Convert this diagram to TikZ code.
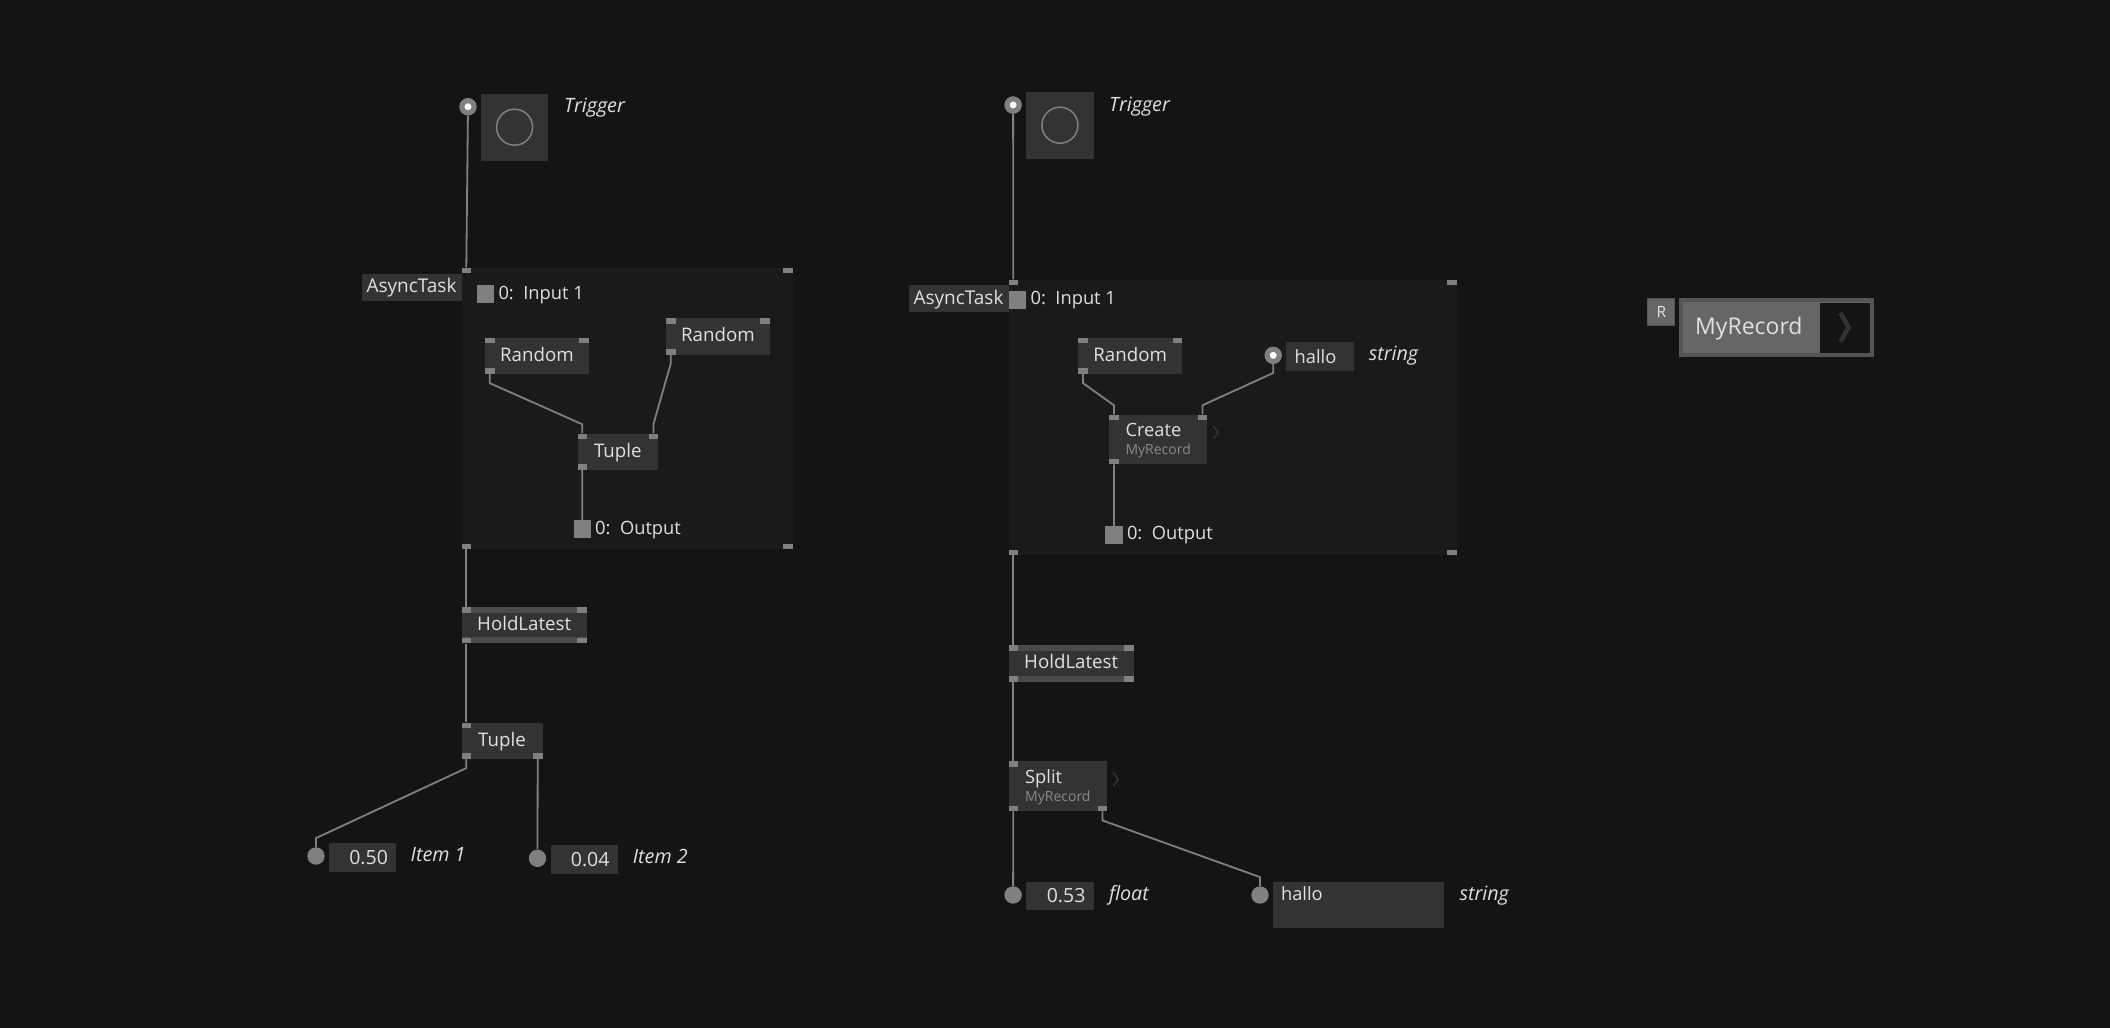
\documentclass[tikz,border=0pt]{standalone}
\usepackage{fontspec}
\setmainfont{Open Sans}
\usetikzlibrary{calc}
\definecolor{bgcol}{HTML}{141414}
\definecolor{regcol}{HTML}{1A1A1A}
\definecolor{boxcol}{HTML}{333333}
\definecolor{stripcol}{HTML}{4A4A4A}
\definecolor{pincol}{HTML}{808080}
\definecolor{txtcol}{HTML}{E0E0E0}
\definecolor{subcol}{HTML}{8A8A8A}
\definecolor{chevcol}{HTML}{333333}
\definecolor{typecol}{HTML}{666666}
\definecolor{typeedge}{HTML}{555555}
\begin{document}
\begin{tikzpicture}[
    x=1pt, y=-1pt,
    plaintxt/.style={
        inner sep=0pt,
        anchor=base west,
        text=txtcol,
        font=\fontsize{18.3}{22}\selectfont
    },
    typetxt/.style={
        plaintxt,
        font=\fontsize{19.7}{22}\selectfont\itshape
    },
    nodebox/.style={
        rectangle,
        fill=boxcol,
        inner sep=0pt,
        anchor=north west,
        text=txtcol,
        font=\fontsize{18.7}{22}\selectfont,
        minimum height=36.4pt,
        text height=23.5pt,
        text depth=12.9pt
    },
    holdbox/.style={
        nodebox,
        minimum width=125.4pt,
        path picture={
            \fill[stripcol] (path picture bounding box.north west) rectangle ([yshift=-6pt]path picture bounding box.north east);
            \fill[stripcol] (path picture bounding box.south west) rectangle ([yshift=6pt]path picture bounding box.south east);
        }
    },
    recbox/.style={
        rectangle,
        fill=boxcol,
        inner sep=0pt,
        anchor=north west,
        align=left,
        text=txtcol,
        font=\fontsize{18.3}{18}\selectfont,
        text height=40.4pt,
        text depth=9.3pt
    },
    taskbox/.style={
        nodebox,
        minimum width=100pt,
        minimum height=27pt,
        font=\fontsize{19}{22}\selectfont,
        text height=19pt,
        text depth=8pt
    },
    regionbox/.style={
        rectangle,
        fill=regcol,
        inner sep=0pt,
        anchor=north west
    },
    valbox/.style={
        rectangle,
        fill=boxcol,
        anchor=north west,
        inner xsep=8.4pt,
        inner ysep=0pt,
        text=txtcol,
        font=\fontsize{19.5}{22}\selectfont,
        text width=50.6pt,
        text height=21pt,
        text depth=7.7pt
    },
    strbox/.style={
        valbox,
        align=left,
        font=\fontsize{18.3}{22}\selectfont
    },
    pinbox/.style={
        rectangle,
        fill=pincol,
        inner sep=0pt,
        minimum width=9.6pt,
        minimum height=5.6pt
    },
    portbox/.style={
        rectangle,
        fill=pincol,
        inner sep=0pt,
        anchor=north west,
        minimum size=17.4pt
    },
    iopin/.style={
        circle,
        draw=pincol,
        fill=white,
        line width=5.2pt,
        minimum size=12.2pt,
        inner sep=0pt
    },
    iodot/.style={
        circle,
        fill=pincol,
        minimum size=17.4pt,
        inner sep=0pt
    },
    bangbox/.style={
        rectangle,
        fill=boxcol,
        inner sep=0pt,
        anchor=north west,
        minimum size=67.4pt
    },
    bangring/.style={
        circle,
        draw=pincol,
        line width=1.5pt,
        inner sep=0pt,
        minimum size=36pt
    },
    wire/.style={
        draw=pincol,
        line width=1.8pt
    },
    chevron/.style={
        draw=chevcol,
        line width=1.6pt
    }
]

\fill[bgcol] (0,0) rectangle (2110,1028);
\useasboundingbox (0,0) rectangle (2110,1028);

\node[regionbox, minimum width=331.4pt, minimum height=281.7pt] (regA) at (461.3,267.3) {};
\node[regionbox, minimum width=448.4pt, minimum height=275.7pt] (regB) at (1008.3,279.3) {};

\node[bangbox] (bangA) at (480.7,93.3) {};
\node[bangring] (ringA) at (bangA) {};
\node[iopin] (trigA) at (468,106.7) {};
\node[typetxt] (trigAtxt) at (564,112.7) {Trigger};

\node[bangbox] (bangB) at (1026,91.3) {};
\node[bangring] (ringB) at (bangB) {};
\node[iopin] (trigB) at (1013.1,105) {};
\node[typetxt] (trigBtxt) at (1109,111) {Trigger};

\node[taskbox] (taskA) at (361.3,273.7) {AsyncTask};
\node[portbox] (inA) at (476.7,285) {};
\node[plaintxt] (inAtxt) at (498.3,299.3) {0:\ \ Input 1};

\node[nodebox, minimum width=104pt] (randA) at (484.7,337.3) {Random};
\node[nodebox, minimum width=104pt] (randB) at (665.7,318) {Random};
\node[nodebox, minimum width=80.7pt] (tupA) at (577.3,433.3) {Tuple};
\node[portbox] (outA) at (573.4,520) {};
\node[plaintxt] (outAtxt) at (595,534) {0:\ \ Output};

\node[holdbox] (holdA) at (461.3,606.7) {HoldLatest};
\node[nodebox, minimum width=81pt] (tupB) at (461.3,722.3) {Tuple};

\node[iodot] (itemA) at (316,856) {};
\node[valbox, align=right] (valA) at (328.7,843) {0.50};
\node[typetxt] (itemAtxt) at (410.5,861) {Item 1};

\node[iodot] (itemB) at (537.5,858.3) {};
\node[valbox, align=right] (valB) at (550.3,845) {0.04};
\node[typetxt] (itemBtxt) at (632.7,863.3) {Item 2};

\node[taskbox] (taskB) at (908.3,285) {AsyncTask};
\node[portbox] (inB) at (1008.6,291) {};
\node[plaintxt] (inBtxt) at (1030.4,304.3) {0:\ \ Input 1};

\node[nodebox, minimum width=104pt] (randC) at (1078,337.3) {Random};
\node[iopin] (halloA) at (1273.2,355.3) {};
\node[strbox] (halloAval) at (1286,342) {hallo};
\node[typetxt] (halloAtxt) at (1368.6,360.3) {string};

\node[recbox, minimum width=98pt, minimum height=49.7pt] (createA) at (1109,414.3) {Create\\{\color{subcol}\fontsize{14}{15}\selectfont MyRecord}};
\draw[chevron] (1213.4,426) -- (1218,432.5) -- (1213.4,439);
\node[portbox] (outB) at (1105,526) {};
\node[plaintxt] (outBtxt) at (1126.8,539.3) {0:\ \ Output};

\node[holdbox] (holdB) at (1008.3,645) {HoldLatest};

\node[recbox, minimum width=98.7pt, minimum height=50pt] (splitA) at (1008.3,761) {Split\\{\color{subcol}\fontsize{14}{15}\selectfont MyRecord}};
\draw[chevron] (1113.4,772.7) -- (1118,779.3) -- (1113.4,786);

\node[iodot] (floatA) at (1013.1,895) {};
\node[valbox, align=right] (valC) at (1026.2,881.3) {0.53};
\node[typetxt] (floatAtxt) at (1108.8,900.3) {float};

\node[iodot] (halloB) at (1260,895) {};
\node[strbox, text width=154.7pt, text height=19.4pt, text depth=27pt] (halloBval) at (1272.4,881.3) {hallo};
\node[typetxt] (halloBtxt) at (1459.4,900.3) {string};

\node[rectangle, fill=typecol, draw=typeedge, line width=1pt, inner sep=0pt, anchor=north west, minimum size=27pt, text=txtcol, font=\fontsize{15.5}{17}\selectfont] (badge) at (1647.3,298.3) {R};
\node[rectangle, fill=typecol, draw=typeedge, line width=4pt, inner sep=0pt, anchor=north west, minimum width=190.7pt, minimum height=54.4pt] (recType) at (1679.3,298.3) {};
\node[plaintxt, font=\fontsize{23}{26}\selectfont] (recTypetxt) at (1695,334) {MyRecord};
\node[rectangle, fill=bgcol, inner sep=0pt, anchor=north west, minimum width=50pt, minimum height=50.4pt] (recOpen) at (1820,302.3) {};
\draw[chevron, line width=4.5pt] (1840.5,313) -- (1848.5,327.3) -- (1840.5,341.6);

\foreach \n in {regA,regB,holdA,holdB} {
    \node[pinbox, anchor=north west] (\n tl) at (\n.north west) {};
    \node[pinbox, anchor=north east] (\n tr) at (\n.north east) {};
    \node[pinbox, anchor=south west] (\n bl) at (\n.south west) {};
    \node[pinbox, anchor=south east] (\n br) at (\n.south east) {};
}
\foreach \n in {randA,randB,randC,tupA,createA} {
    \node[pinbox, anchor=north west] (\n tl) at (\n.north west) {};
    \node[pinbox, anchor=north east] (\n tr) at (\n.north east) {};
    \node[pinbox, anchor=south west] (\n bl) at (\n.south west) {};
}
\foreach \n in {tupB,splitA} {
    \node[pinbox, anchor=north west] (\n tl) at (\n.north west) {};
    \node[pinbox, anchor=south west] (\n bl) at (\n.south west) {};
    \node[pinbox, anchor=south east] (\n br) at (\n.south east) {};
}

\draw[wire] (trigA) -- (regAtl.north);
\draw[wire] (randAbl.south) -- ++(0,9) -- ($(tupAtl.north)+(0,-9)$) -- (tupAtl.north);
\draw[wire] (randBbl.south) -- ++(0,9) -- ($(tupAtr.north)+(0,-9)$) -- (tupAtr.north);
\draw[wire] (tupAbl.south) -- (outA.north);
\draw[wire] (regAbl.south) -- (holdAtl.north);
\draw[wire] (holdAbl.south) -- (tupBtl.north);
\draw[wire] (tupBbl.south) -- ++(0,9) -- ($(itemA.north)+(0,-9)$) -- (itemA.north);
\draw[wire] (tupBbr.south) -- (itemB.north);

\draw[wire] (trigB) -- (regBtl.north);
\draw[wire] (randCbl.south) -- ++(0,9) -- ($(createAtl.north)+(0,-9)$) -- (createAtl.north);
\draw[wire] (halloA.south) -- ++(0,9) -- ($(createAtr.north)+(0,-9)$) -- (createAtr.north);
\draw[wire] (createAbl.south) -- (outB.north);
\draw[wire] (regBbl.south) -- (holdBtl.north);
\draw[wire] (holdBbl.south) -- (splitAtl.north);
\draw[wire] (splitAbl.south) -- (floatA.north);
\draw[wire] (splitAbr.south) -- ++(0,9) -- ($(halloB.north)+(0,-9)$) -- (halloB.north);

\end{tikzpicture}
\end{document}
